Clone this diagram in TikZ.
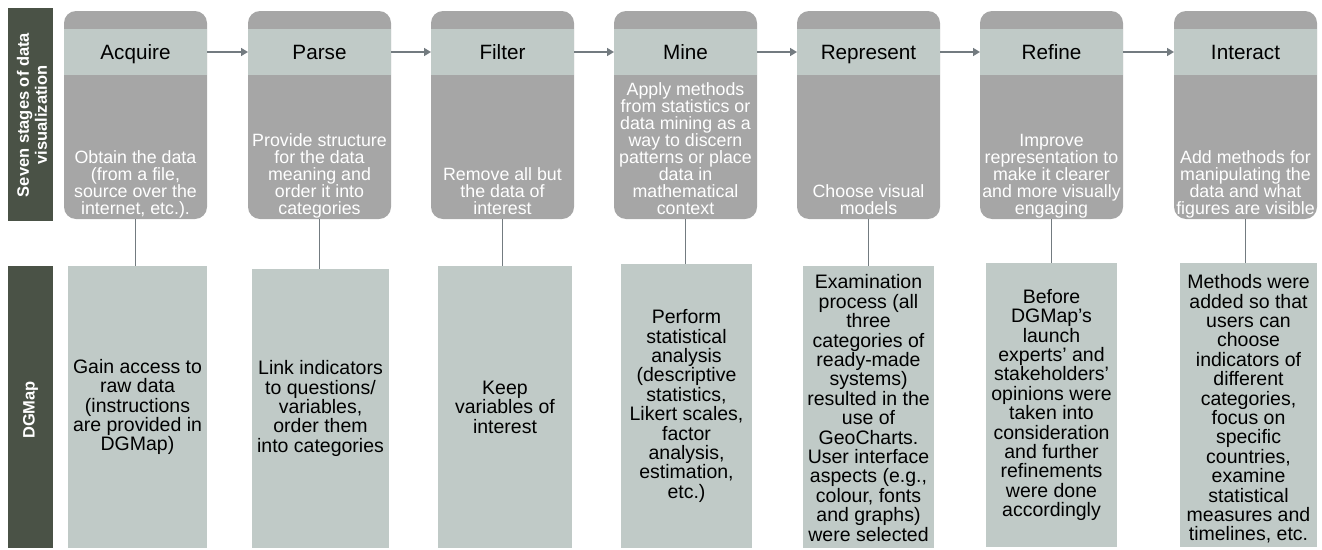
\documentclass[tikz,border=0pt]{standalone}
\usepackage{fontspec}
\setmainfont{Liberation Sans}
\usetikzlibrary{arrows.meta}
\definecolor{sidebarcol}{HTML}{4A5246}
\definecolor{stagegray}{HTML}{A6A6A6}
\definecolor{headcol}{HTML}{C0CAC7}
\definecolor{linecol}{HTML}{737B80}
\begin{document}
\begin{tikzpicture}[x=1pt,y=-1pt,
  sidebar/.style={fill=sidebarcol, draw=none, inner sep=0pt, outer sep=0pt, anchor=north west},
  sidelabel/.style={text=white, font=\fontsize{16.5}{18}\selectfont\bfseries, align=center, rotate=90, inner sep=0pt},
  stagebox/.style={fill=stagegray, rounded corners=12pt, minimum width=143pt, minimum height=208pt, anchor=north west, inner sep=0pt, outer sep=0pt},
  headband/.style={fill=headcol, minimum width=143pt, minimum height=46pt, anchor=north west, inner sep=0pt, outer sep=0pt, text height=14.8pt, text depth=0pt, font=\fontsize{20.7}{22}\selectfont},
  stagetext/.style={text=white, align=center, anchor=south, font=\fontsize{17.8}{17}\selectfont, inner sep=0pt, text depth=4pt},
  mapbox/.style={fill=headcol, anchor=north west, inner sep=0pt, outer sep=0pt},
  maptext/.style={align=center, font=\fontsize{19.5}{19.4}\selectfont, inner sep=0pt},
  flow/.style={draw=linecol, line width=1.6pt, -{Triangle[length=7pt,width=8pt]}},
  link/.style={draw=linecol, line width=1.2pt}
]
\useasboundingbox (0,0) rectangle (1322,549);

% row labels
\node[sidebar, minimum width=45pt, minimum height=213pt] (barTop) at (8,8) {};
\node[sidelabel] (lblTop) at (32,115) {Seven stages of data\\visualization};
\node[sidebar, minimum width=45pt, minimum height=282pt] (barBot) at (8,266) {};
\node[sidelabel] (lblBot) at (30.5,410) {DGMap};

% stage cards: rounded body, header band, description at the bottom
\node[stagebox] (s1) at (64,11) {};
\node[headband] (h1) at (64,29) {Acquire};
\node[stagetext] (d1) at (s1.south) {Obtain the data\\(from a file,\\source over the\\internet, etc.).};

\node[stagebox] (s2) at (248,11) {};
\node[headband] (h2) at (248,29) {Parse};
\node[stagetext] (d2) at (s2.south) {Provide structure\\for the data\\meaning and\\order it into\\categories};

\node[stagebox] (s3) at (431,11) {};
\node[headband] (h3) at (431,29) {Filter};
\node[stagetext] (d3) at (s3.south) {Remove all but\\the data of\\interest};

\node[stagebox] (s4) at (614,11) {};
\node[headband] (h4) at (614,29) {Mine};
\node[stagetext] (d4) at (s4.south) {Apply methods\\from statistics or\\data mining as a\\way to discern\\patterns or place\\data in\\mathematical\\context};

\node[stagebox] (s5) at (797,11) {};
\node[headband] (h5) at (797,29) {Represent};
\node[stagetext] (d5) at (s5.south) {Choose visual\\models};

\node[stagebox] (s6) at (980,11) {};
\node[headband] (h6) at (980,29) {Refine};
\node[stagetext] (d6) at (s6.south) {Improve\\representation to\\make it clearer\\and more visually\\engaging};

\node[stagebox] (s7) at (1174,11) {};
\node[headband] (h7) at (1174,29) {Interact};
\node[stagetext] (d7) at (s7.south) {Add methods for\\manipulating the\\data and what\\figures are visible};

% DGMap boxes
\node[mapbox, minimum width=139pt, minimum height=282pt] (m1) at (68,266) {};
\node[maptext] (t1) at (m1.center) {Gain access to\\raw data\\(instructions\\are provided in\\DGMap)};

\node[mapbox, minimum width=137pt, minimum height=279pt] (m2) at (252,269) {};
\node[maptext] (t2) at (m2.center) {Link indicators\\to questions/\\variables,\\order them\\into categories};

\node[mapbox, minimum width=134pt, minimum height=282pt] (m3) at (438,266) {};
\node[maptext] (t3) at (m3.center) {Keep\\variables of\\interest};

\node[mapbox, minimum width=131pt, minimum height=284pt] (m4) at (621,264) {};
\node[maptext] (t4) at (m4.center) {Perform\\statistical\\analysis\\(descriptive\\statistics,\\Likert scales,\\factor\\analysis,\\estimation,\\etc.)};

\node[mapbox, minimum width=131pt, minimum height=282pt] (m5) at (803,266) {};
\node[maptext] (t5) at ([yshift=-1pt]m5.center) {Examination\\process (all\\three\\categories of\\ready-made\\systems)\\resulted in the\\use of\\GeoCharts.\\User interface\\aspects (e.g.,\\colour, fonts\\and graphs)\\were selected};

\node[mapbox, minimum width=131pt, minimum height=284pt] (m6) at (986,263) {};
\node[maptext] (t6) at (m6.center) {Before\\DGMap’s\\launch\\experts’ and\\stakeholders’\\opinions were\\taken into\\consideration\\and further\\refinements\\were done\\accordingly};

\node[mapbox, minimum width=137pt, minimum height=284pt] (m7) at (1180,263) {};
\node[maptext] (t7) at ([yshift=-4pt]m7.center) {Methods were\\added so that\\users can\\choose\\indicators of\\different\\categories,\\focus on\\specific\\countries,\\examine\\statistical\\measures and\\timelines, etc.};

% flow between stages
\foreach \a/\b in {h1/h2,h2/h3,h3/h4,h4/h5,h5/h6,h6/h7}
  \draw[flow] (\a.east) -- (\b.west);

% stage to DGMap links
\foreach \i in {1,...,7}
  \draw[link] (s\i.south) -- (s\i.south |- m\i.north);
\end{tikzpicture}
\end{document}
